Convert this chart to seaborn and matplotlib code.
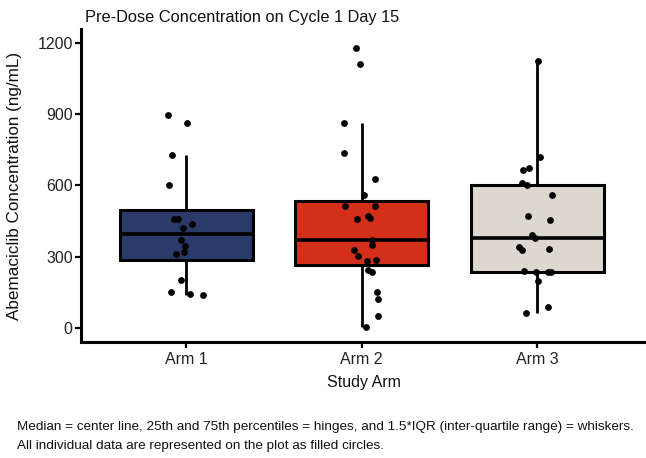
import numpy as np
import pandas as pd
import matplotlib
matplotlib.use("Agg")
import matplotlib.pyplot as plt
import seaborn as sns

# ---- data ----
arms = ["Arm 1", "Arm 2", "Arm 3"]
arm1_values = [896, 865, 727, 603, 459, 459, 438, 421, 372, 346, 318, 311, 204, 152, 142, 139]
arm1_jitter = [-0.104, 0.003, -0.083, -0.096, -0.068, -0.049, 0.032, -0.021, -0.028, -0.010,
               -0.015, -0.059, -0.031, -0.089, 0.020, 0.094]
arm2_values = [1177, 1111, 865, 735, 628, 558, 513, 515, 459, 470, 462, 372, 351, 330, 304,
               283, 287, 244, 234, 153, 123, 49, 3]
arm2_jitter = [-0.034, -0.009, -0.100, -0.100, 0.078, 0.014, -0.094, 0.074, -0.028, 0.038,
               0.049, 0.057, 0.057, -0.047, -0.019, 0.028, 0.082, 0.038, 0.057, 0.085,
               0.091, 0.095, 0.025]
arm3_values = [1123, 722, 666, 675, 610, 600, 559, 470, 456, 393, 379, 342, 330, 334, 241,
               234, 196, 237, 237, 90, 65]
arm3_jitter = [0.004, 0.017, -0.081, -0.044, -0.087, -0.058, 0.085, -0.051, 0.074, -0.028,
               -0.013, -0.104, -0.085, 0.070, -0.075, -0.006, 0.002, 0.061, 0.079, 0.062,
               -0.062]
arm_colors = ["#2B3B69", "#D42F1B", "#DDD8CF"]
y_ticks = [0, 300, 600, 900, 1200]

title = "Pre-Dose Concentration on Cycle 1 Day 15"
x_label = "Study Arm"
y_label = "Abemaciclib Concentration (ng/mL)"
footnote_lines = [
    "Median = center line, 25th and 75th percentiles = hinges, and 1.5*IQR "
    "(inter-quartile range) = whiskers.",
    "All individual data are represented on the plot as filled circles.",
]

values_list = [arm1_values, arm2_values, arm3_values]
jitter_list = [arm1_jitter, arm2_jitter, arm3_jitter]
df = pd.DataFrame({
    "arm": np.concatenate([[a] * len(v) for a, v in zip(arms, values_list)]),
    "value": np.concatenate(values_list),
    "jit": np.concatenate(jitter_list),
})
df["pos"] = df["arm"].map({a: i for i, a in enumerate(arms)}) + df["jit"]

sns.set_theme(style="ticks")
plt.rcParams["font.family"] = ["Liberation Sans", "DejaVu Sans"]

fig = plt.figure(figsize=(6.46, 4.58), dpi=100)
ax = fig.add_axes([0.1254, 0.2533, 0.8746, 0.6834])

sns.boxplot(data=df, x="arm", y="value", hue="arm", order=arms, hue_order=arms,
            palette=arm_colors, saturation=1, width=0.76, showfliers=False,
            showcaps=False, whis=1.5, linewidth=2.0, linecolor="black",
            legend=False, ax=ax,
            medianprops={"linewidth": 2.6, "color": "black"},
            whiskerprops={"linewidth": 2.0, "color": "black"},
            boxprops={"edgecolor": "black", "linewidth": 2.2})

ax.scatter(df["pos"], df["value"], s=24, color="black", zorder=5, linewidths=0)

ax.set_xlim(-0.6, 2.62)
ax.set_ylim(-59, 1259)
ax.set_yticks(y_ticks)
ax.set_yticklabels([str(t) for t in y_ticks])

for side in ["top", "right"]:
    ax.spines[side].set_visible(False)
for side in ["left", "bottom"]:
    ax.spines[side].set_linewidth(2.2)
    ax.spines[side].set_color("black")
ax.tick_params(axis="both", length=4, width=1.6, color="black",
               labelsize=11.5, labelcolor="#222222")
ax.tick_params(axis="x", pad=3.5)
ax.tick_params(axis="y", pad=2)

ax.set_xlabel(x_label, fontsize=11.5, color="#111111", labelpad=5.5)
ax.set_ylabel(y_label, fontsize=12.3, color="#111111")
ax.yaxis.set_label_coords(-0.104, 0.5)
ax.set_title(title, fontsize=11.8, loc="left", color="#111111", pad=5, x=0.007)

fig.text(0.026, 1 - 427 / 458, footnote_lines[0], fontsize=9.7, color="#111111",
         ha="left", va="center")
fig.text(0.026, 1 - 446 / 458, footnote_lines[1], fontsize=9.7, color="#111111",
         ha="left", va="center")

fig.savefig("out.png", dpi=100)
